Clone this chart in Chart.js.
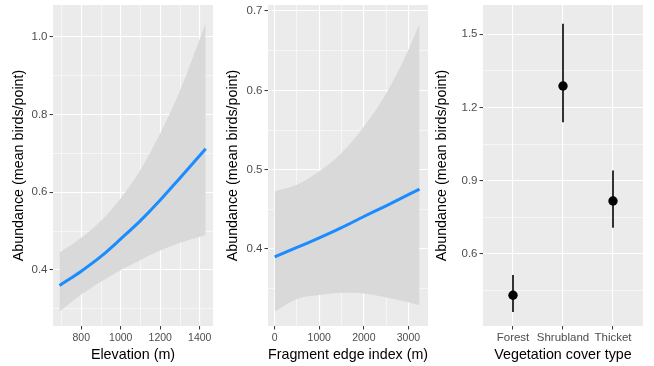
<!DOCTYPE html>
<html lang="en">
<head>
  <meta charset="utf-8">
  <title>Bird abundance panels</title>
  <script src="https://cdn.jsdelivr.net/npm/chart.js@4.4.0/dist/chart.umd.min.js"></script>
  <style>
    body { margin: 0; background: #ffffff; }
    #wrap { position: relative; width: 654px; height: 366px; }
    canvas { position: absolute; top: 0; }
  </style>
</head>
<body>
<div id="wrap">
  <canvas id="elev" width="220" height="366" style="left:0px"></canvas>
  <canvas id="frag" width="216" height="366" style="left:220px"></canvas>
  <canvas id="veg" width="224" height="366" style="left:430px"></canvas>
</div>

<script>
// --- panel 1: elevation ---
const elevX    = [690, 800, 900, 1000, 1100, 1200, 1300, 1430];
const elevFit  = [0.360, 0.397, 0.435, 0.480, 0.527, 0.580, 0.637, 0.712];
const elevLow  = [0.293, 0.337, 0.370, 0.400, 0.426, 0.450, 0.470, 0.490];
const elevHigh = [0.445, 0.483, 0.527, 0.585, 0.658, 0.752, 0.862, 1.035];
const elevXMajor = [800, 1000, 1200, 1400];
const elevXMinor = [700, 900, 1100, 1300];
const elevYMajor = [0.4, 0.6, 0.8, 1.0];
const elevYMinor = [0.3, 0.5, 0.7, 0.9];

// --- panel 2: fragment edge index ---
const fragX    = [0, 500, 1000, 1500, 2000, 2500, 3000, 3250];
const fragFit  = [0.390, 0.402, 0.414, 0.427, 0.441, 0.4545, 0.4685, 0.4755];
const fragLow  = [0.321, 0.337, 0.342, 0.345, 0.344, 0.339, 0.333, 0.329];
const fragHigh = [0.473, 0.481, 0.498, 0.521, 0.554, 0.596, 0.651, 0.684];
const fragXMajor = [0, 1000, 2000, 3000];
const fragXMinor = [500, 1500, 2500];
const fragYMajor = [0.4, 0.5, 0.6, 0.7];
const fragYMinor = [0.35, 0.45, 0.55, 0.65];

// --- panel 3: vegetation cover type ---
const vegCats = ['Forest', 'Shrubland', 'Thicket'];
const vegMean = [0.431, 1.288, 0.817];
const vegLow  = [0.362, 1.140, 0.708];
const vegHigh = [0.514, 1.543, 0.942];
const vegYMajor = [0.6, 0.9, 1.2, 1.5];
const vegYMinor = [0.45, 0.75, 1.05, 1.35];

const FONT = "'Liberation Sans', Arial, sans-serif";
const BLUE = '#1a8cff';
const BAND = '#d9d9d9';

const panelBg = {
  id: 'panelBg',
  beforeDraw(chart) {
    const a = chart.chartArea;
    const ctx = chart.ctx;
    ctx.save();
    ctx.fillStyle = '#ebebeb';
    ctx.fillRect(a.left, a.top, a.right - a.left, a.bottom - a.top);
    ctx.restore();
  }
};

function pts(xs, ys) {
  return xs.map((x, i) => ({ x: x, y: ys[i] }));
}

function grid(major) {
  return {
    color: '#ffffff',
    lineWidth: c => (c.tick && major.includes(c.tick.value)) ? 1.1 : 0.55,
    tickColor: c => (c.tick && major.includes(c.tick.value)) ? '#333333' : 'rgba(0,0,0,0)',
    tickLength: 3.5,
    tickWidth: 1,
    drawTicks: true
  };
}

function axis(opts) {
  const all = opts.major.concat(opts.minor);
  return {
    type: 'linear',
    min: opts.min,
    max: opts.max,
    border: { display: false },
    grid: grid(opts.major),
    afterBuildTicks: s => { s.ticks = all.slice().sort((p, q) => p - q).map(v => ({ value: v })); },
    ticks: {
      autoSkip: false,
      maxRotation: 0,
      color: '#4d4d4d',
      font: { family: FONT, size: opts.labelSize || (opts.isY ? 11.5 : 10.5) },
      padding: opts.isY ? 2 : (opts.tickPad || 2.5),
      callback: v => {
        const i = opts.major.indexOf(v);
        return i < 0 ? '' : opts.labels[i];
      }
    },
    title: {
      display: true,
      text: opts.titleText,
      color: '#000000',
      font: { family: FONT, size: 14.3 },
      padding: opts.isY ? { top: opts.titlePad, bottom: 0 } : { top: 0, bottom: 2.4 }
    },
    afterFit: s => {
      // keep the panel exactly where ggplot put it
      s.paddingTop = 0; s.paddingBottom = 0; s.paddingLeft = 0; s.paddingRight = 0;
      if (opts.isY) s.width = opts.width; else s.height = 40;
    }
  };
}

function baseOptions(rightPad, xAxis, yAxis) {
  return {
    responsive: false,
    animation: false,
    layout: { padding: { top: 5, right: rightPad, bottom: 0, left: 0 } },
    plugins: { legend: { display: false }, tooltip: { enabled: false } },
    scales: { x: xAxis, y: yAxis }
  };
}

function smoothPanel(id, xs, fit, low, high, xAxis, yAxis, rightPad) {
  new Chart(document.getElementById(id), {
    type: 'line',
    data: {
      datasets: [
        { data: pts(xs, fit), borderColor: BLUE, borderWidth: 3, pointRadius: 0,
          cubicInterpolationMode: 'monotone', fill: false },
        { data: pts(xs, low), borderWidth: 0, borderColor: 'rgba(0,0,0,0)', pointRadius: 0,
          cubicInterpolationMode: 'monotone', fill: false },
        { data: pts(xs, high), borderWidth: 0, borderColor: 'rgba(0,0,0,0)', pointRadius: 0,
          cubicInterpolationMode: 'monotone', fill: '-1', backgroundColor: BAND }
      ]
    },
    options: baseOptions(rightPad, xAxis, yAxis),
    plugins: [panelBg]
  });
}

smoothPanel('elev', elevX, elevFit, elevLow, elevHigh,
  axis({ min: 657, max: 1467, major: elevXMajor, minor: elevXMinor,
         labels: elevXMajor.map(String), titleText: 'Elevation (m)' }),
  axis({ min: 0.256, max: 1.082, major: elevYMajor, minor: elevYMinor,
         labels: elevYMajor.map(v => v.toFixed(1)), isY: true, width: 53,
         titleText: 'Abundance (mean birds/point)', titlePad: 10.4 }),
  7);

smoothPanel('frag', fragX, fragFit, fragLow, fragHigh,
  axis({ min: -150, max: 3440, major: fragXMajor, minor: fragXMinor,
         labels: fragXMajor.map(String), titleText: 'Fragment edge index (m)' }),
  axis({ min: 0.303, max: 0.7076, major: fragYMajor, minor: fragYMinor,
         labels: fragYMajor.map(v => v.toFixed(1)), isY: true, width: 48,
         titleText: 'Abundance (mean birds/point)', titlePad: 4.4 }),
  8);

// error bars + points for the categorical panel
const vegPos = vegCats.map((c, i) => i + 1);
const vegSets = vegCats.map((c, i) => ({
  data: [{ x: vegPos[i], y: vegLow[i] }, { x: vegPos[i], y: vegHigh[i] }],
  borderColor: '#000000', borderWidth: 1.6, pointRadius: 0, fill: false
}));
vegSets.unshift({
  data: pts(vegPos, vegMean), showLine: false, pointRadius: 4.7,
  pointBackgroundColor: '#000000', pointBorderWidth: 0, borderColor: '#000000'
});

new Chart(document.getElementById('veg'), {
  type: 'line',
  data: { datasets: vegSets },
  options: baseOptions(11,
    axis({ min: 0.4, max: 3.6, major: vegPos, minor: [], labels: vegCats,
           labelSize: 11.5, tickPad: 1, titleText: 'Vegetation cover type' }),
    axis({ min: 0.305, max: 1.62, major: vegYMajor, minor: vegYMinor,
           labels: vegYMajor.map(v => v.toFixed(1)), isY: true, width: 53,
           titleText: 'Abundance (mean birds/point)', titlePad: 3.1 })),
  plugins: [panelBg]
});
</script>
</body>
</html>
